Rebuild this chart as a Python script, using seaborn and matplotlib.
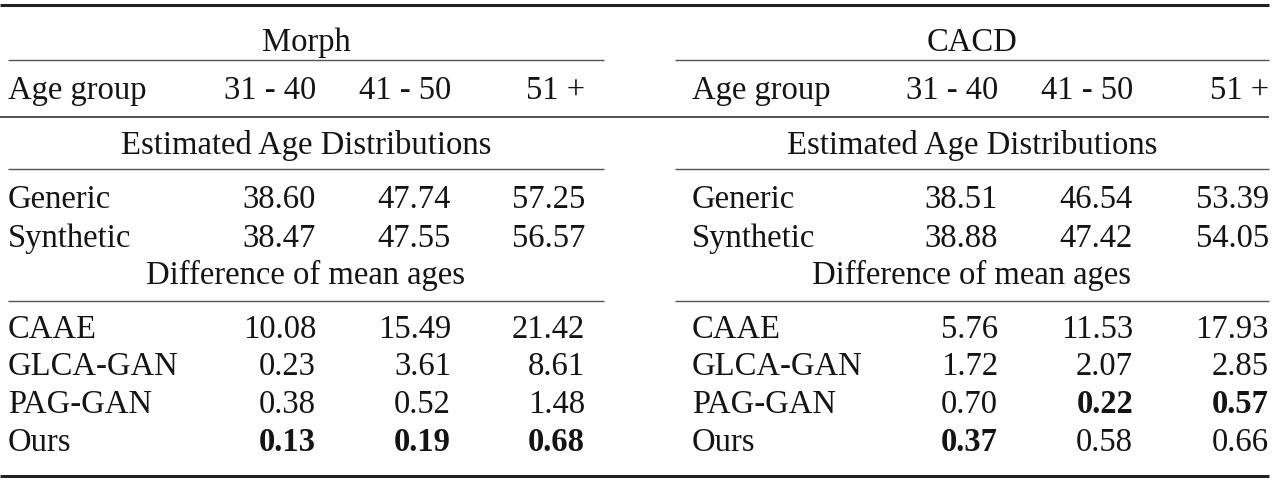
import matplotlib
matplotlib.use("Agg")
import matplotlib.pyplot as plt
import seaborn as sns

sns.set_theme(style="white")
plt.rcParams['font.family'] = ['Liberation Serif', 'DejaVu Serif']

datasets = ["Morph", "CACD"]
age_groups = ["31 - 40", "41 - 50", "51 +"]
section_titles = ["Estimated Age Distributions", "Difference of mean ages"]
dist_rows = ["Generic", "Synthetic"]
method_rows = ["CAAE", "GLCA-GAN", "PAG-GAN", "Ours"]

morph_dist = [[38.60, 47.74, 57.25],
              [38.47, 47.55, 56.57]]
cacd_dist = [[38.51, 46.54, 53.39],
             [38.88, 47.42, 54.05]]
morph_diff = [[10.08, 15.49, 21.42],
              [0.23, 3.61, 8.61],
              [0.38, 0.52, 1.48],
              [0.13, 0.19, 0.68]]
cacd_diff = [[5.76, 11.53, 17.93],
             [1.72, 2.07, 2.85],
             [0.70, 0.22, 0.57],
             [0.37, 0.58, 0.66]]
# bold (best) markers: (row, col)
morph_bold = [(3, 0), (3, 1), (3, 2)]
cacd_bold = [(3, 0), (2, 1), (2, 2)]

W, H = 1285, 487
fig = plt.figure(figsize=(W / 100, H / 100), dpi=100)
ax = fig.add_axes([0, 0, 1, 1])
ax.set_xlim(0, W)
ax.set_ylim(H, 0)
ax.axis("off")

FS = 23.5
TC = "#141414"
OFF = 11  # baseline offset from row centre
blocks = [
    dict(name=datasets[0], dist=morph_dist, diff=morph_diff, bold=morph_bold,
         x0=8, x1=604, cols=[316, 451, 585], lab=8),
    dict(name=datasets[1], dist=cacd_dist, diff=cacd_diff, bold=cacd_bold,
         x0=675, x1=1269, cols=[998, 1133, 1269], lab=692),
]

y_title = 40
y_age = 88
y_sec1 = 143
y_dist = [197, 236]
y_sec2 = 273
y_meth = [327, 364, 402, 440]


def txt(x, y, s, ha, bold=False):
    ax.text(x, y + OFF, s, ha=ha, va="baseline", fontsize=FS, color=TC,
            fontweight="bold" if bold else "normal")


# full-width rules
ax.plot([0, 1269], [5, 5], color="#222", lw=2.2, solid_capstyle="butt")
ax.plot([0, 1269], [117, 117], color="#333", lw=1.2, solid_capstyle="butt")
ax.plot([0, 1269], [476, 476], color="#222", lw=2.2, solid_capstyle="butt")

for b in blocks:
    cx = (b["x0"] + b["x1"]) / 2
    txt(cx, y_title, b["name"], "center")
    for yy in (60, 169, 301):
        ax.plot([b["x0"], b["x1"]], [yy, yy], color="#555", lw=1.0, solid_capstyle="butt")
    txt(b["lab"], y_age, "Age group", "left")
    for c, g in zip(b["cols"], age_groups):
        txt(c, y_age, g, "right")
    txt(cx, y_sec1, section_titles[0], "center")
    txt(cx, y_sec2, section_titles[1], "center")
    for r, (yy, name) in enumerate(zip(y_dist, dist_rows)):
        txt(b["lab"], yy, name, "left")
        for c, v in zip(b["cols"], b["dist"][r]):
            txt(c, yy, f"{v:.2f}", "right")
    for r, (yy, name) in enumerate(zip(y_meth, method_rows)):
        txt(b["lab"], yy, name, "left")
        for ci, (c, v) in enumerate(zip(b["cols"], b["diff"][r])):
            txt(c, yy, f"{v:.2f}", "right", bold=(r, ci) in b["bold"])

fig.savefig("out.png", dpi=100, facecolor="white")
